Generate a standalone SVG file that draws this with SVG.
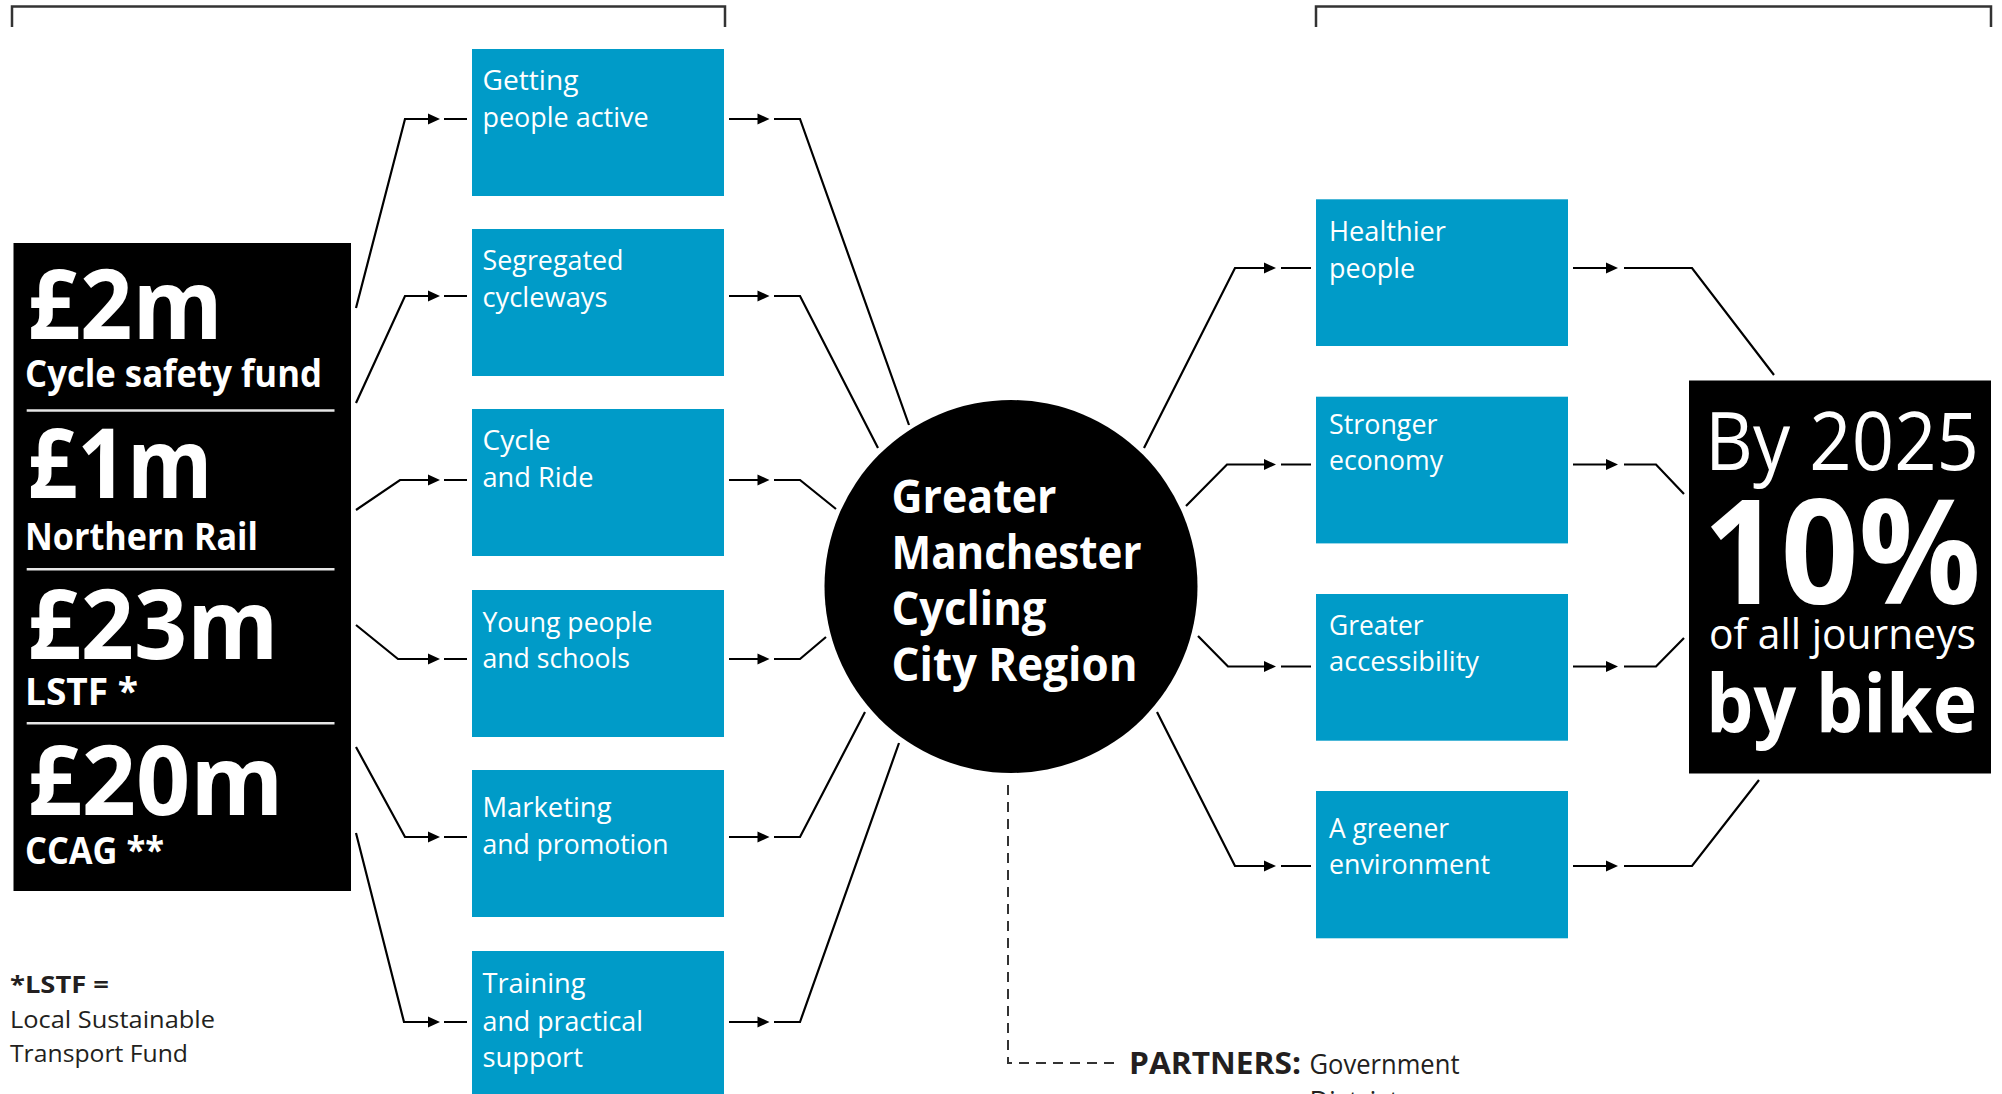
<svg xmlns="http://www.w3.org/2000/svg" xmlns:xlink="http://www.w3.org/1999/xlink" width="2002" height="1094" viewBox="0 0 2002 1094">
  <style>
    text { font-family: "Open Sans", "Noto Sans", "Liberation Sans", sans-serif; }
    .box { fill: #009bc8; }
    .box-t { font-size: 28px; fill: #ffffff; }
    .fund-big { font-size: 96px; font-weight: 700; fill: #ffffff; }
    .fund-lab { font-size: 37px; font-weight: 700; fill: #ffffff; }
    .rule { stroke: #e6e6e6; stroke-width: 2.5; }
    .hub-t { font-size: 46px; font-weight: 700; fill: #ffffff; }
    .note-b { font-size: 24px; font-weight: 700; fill: #231f20; }
    .note { font-size: 24px; fill: #231f20; }
    .link { fill: none; stroke: #000000; stroke-width: 2.2; }
    .bracket { fill: none; stroke: #333333; stroke-width: 2.5; }
    .partner-line { fill: none; stroke: #333333; stroke-width: 2; stroke-dasharray: 10 7; }
    .partner-b { font-size: 30px; font-weight: 700; fill: #231f20; }
    .partner { font-size: 27px; fill: #231f20; }
  </style>
  <defs>
    <path id="ah" d="M0,-5.5 L12,0 L0,5.5 Z" fill="#000000"/>
  </defs>

  <rect width="2002" height="1094" fill="#ffffff"/>

  <!-- top brackets -->
  <g id="brackets">
    <path class="bracket" d="M12,27 V6.5 H725 V27"/>
    <path class="bracket" d="M1316,27 V6.5 H1991 V27"/>
  </g>

  <!-- funding sources -->
  <g id="funding">
    <rect x="13.5" y="243" width="337.5" height="648" fill="#000000"/>
    <text class="fund-big" x="27.5" y="339" textLength="195" lengthAdjust="spacingAndGlyphs">£2m</text>
    <text class="fund-lab" x="25" y="386.7" textLength="297" lengthAdjust="spacingAndGlyphs">Cycle safety fund</text>
    <line class="rule" x1="26.7" y1="410.5" x2="334.5" y2="410.5"/>
    <text class="fund-big" x="27.5" y="498.3" textLength="185" lengthAdjust="spacingAndGlyphs">£1m</text>
    <text class="fund-lab" x="25" y="550" textLength="233" lengthAdjust="spacingAndGlyphs">Northern Rail</text>
    <line class="rule" x1="26.7" y1="569.3" x2="334.5" y2="569.3"/>
    <text class="fund-big" x="27.5" y="659.3" textLength="251" lengthAdjust="spacingAndGlyphs">£23m</text>
    <text class="fund-lab" x="25" y="705" textLength="113" lengthAdjust="spacingAndGlyphs">LSTF *</text>
    <line class="rule" x1="26.7" y1="723.3" x2="334.5" y2="723.3"/>
    <text class="fund-big" x="27.5" y="815" textLength="256" lengthAdjust="spacingAndGlyphs">£20m</text>
    <text class="fund-lab" x="25" y="864" textLength="139" lengthAdjust="spacingAndGlyphs">CCAG **</text>
  </g>

  <!-- footnote -->
  <g id="footnote">
    <text class="note-b" x="10" y="993.3" textLength="99" lengthAdjust="spacingAndGlyphs">*LSTF =</text>
    <text class="note" x="10" y="1027.7" textLength="205" lengthAdjust="spacingAndGlyphs">Local Sustainable</text>
    <text class="note" x="10" y="1061.7" textLength="178" lengthAdjust="spacingAndGlyphs">Transport Fund</text>
  </g>

  <!-- programme boxes -->
  <g id="getting-people-active">
    <rect class="box" x="472" y="49" width="252" height="147"/>
    <text class="box-t" x="482.5" y="90" textLength="96" lengthAdjust="spacingAndGlyphs">Getting</text>
    <text class="box-t" x="482.5" y="127" textLength="166" lengthAdjust="spacingAndGlyphs">people active</text>
  </g>
  <g id="segregated-cycleways">
    <rect class="box" x="472" y="229" width="252" height="147"/>
    <text class="box-t" x="482.5" y="270" textLength="141" lengthAdjust="spacingAndGlyphs">Segregated</text>
    <text class="box-t" x="482.5" y="307" textLength="125" lengthAdjust="spacingAndGlyphs">cycleways</text>
  </g>
  <g id="cycle-and-ride">
    <rect class="box" x="472" y="409" width="252" height="147"/>
    <text class="box-t" x="482.5" y="450" textLength="68" lengthAdjust="spacingAndGlyphs">Cycle</text>
    <text class="box-t" x="482.5" y="487" textLength="111" lengthAdjust="spacingAndGlyphs">and Ride</text>
  </g>
  <g id="young-people">
    <rect class="box" x="472" y="590" width="252" height="147"/>
    <text class="box-t" x="482.5" y="631.7" textLength="170" lengthAdjust="spacingAndGlyphs">Young people</text>
    <text class="box-t" x="482.5" y="668.3" textLength="147.5" lengthAdjust="spacingAndGlyphs">and schools</text>
  </g>
  <g id="marketing">
    <rect class="box" x="472" y="770" width="252" height="147"/>
    <text class="box-t" x="482.5" y="816.7" textLength="129" lengthAdjust="spacingAndGlyphs">Marketing</text>
    <text class="box-t" x="482.5" y="854" textLength="186" lengthAdjust="spacingAndGlyphs">and promotion</text>
  </g>
  <g id="training">
    <rect class="box" x="472" y="951" width="252" height="160"/>
    <text class="box-t" x="482.5" y="992.7" textLength="103" lengthAdjust="spacingAndGlyphs">Training</text>
    <text class="box-t" x="482.5" y="1030.7" textLength="160.5" lengthAdjust="spacingAndGlyphs">and practical</text>
    <text class="box-t" x="482.5" y="1066.7" textLength="100.5" lengthAdjust="spacingAndGlyphs">support</text>
  </g>

  <!-- central hub -->
  <g id="hub">
    <circle cx="1011" cy="586.5" r="186.5" fill="#000000"/>
    <text class="hub-t" x="891.5" y="513.3" textLength="165" lengthAdjust="spacingAndGlyphs">Greater</text>
    <text class="hub-t" x="891.5" y="569.3" textLength="250" lengthAdjust="spacingAndGlyphs">Manchester</text>
    <text class="hub-t" x="891.5" y="625" textLength="155" lengthAdjust="spacingAndGlyphs">Cycling</text>
    <text class="hub-t" x="891.5" y="680.7" textLength="246" lengthAdjust="spacingAndGlyphs">City Region</text>
  </g>

  <!-- outcome boxes -->
  <g id="healthier-people">
    <rect class="box" x="1316" y="199.3" width="252" height="146.7"/>
    <text class="box-t" x="1329" y="241" textLength="117" lengthAdjust="spacingAndGlyphs">Healthier</text>
    <text class="box-t" x="1329" y="277.7" textLength="86" lengthAdjust="spacingAndGlyphs">people</text>
  </g>
  <g id="stronger-economy">
    <rect class="box" x="1316" y="396.7" width="252" height="146.7"/>
    <text class="box-t" x="1329" y="434" textLength="108.5" lengthAdjust="spacingAndGlyphs">Stronger</text>
    <text class="box-t" x="1329" y="470" textLength="114" lengthAdjust="spacingAndGlyphs">economy</text>
  </g>
  <g id="greater-accessibility">
    <rect class="box" x="1316" y="594" width="252" height="146.7"/>
    <text class="box-t" x="1329" y="635" textLength="94.5" lengthAdjust="spacingAndGlyphs">Greater</text>
    <text class="box-t" x="1329" y="671" textLength="150" lengthAdjust="spacingAndGlyphs">accessibility</text>
  </g>
  <g id="greener-environment">
    <rect class="box" x="1316" y="791" width="252" height="147.3"/>
    <text class="box-t" x="1329" y="837.7" textLength="120" lengthAdjust="spacingAndGlyphs">A greener</text>
    <text class="box-t" x="1329" y="874.3" textLength="161" lengthAdjust="spacingAndGlyphs">environment</text>
  </g>

  <!-- target -->
  <g id="target">
    <rect x="1689" y="380.5" width="302" height="393" fill="#000000"/>
    <text x="1705" y="469.6" font-size="80" fill="#ffffff" textLength="274" lengthAdjust="spacingAndGlyphs">By 2025</text>
    <text x="1703" y="604" font-size="145" font-weight="700" fill="#ffffff" textLength="278" lengthAdjust="spacingAndGlyphs">10%</text>
    <text x="1709" y="649" font-size="42" fill="#ffffff" textLength="267" lengthAdjust="spacingAndGlyphs">of all journeys</text>
    <text x="1706" y="732" font-size="80" font-weight="700" fill="#ffffff" textLength="271" lengthAdjust="spacingAndGlyphs">by bike</text>
  </g>

  <!-- partners note -->
  <g id="partners">
    <text class="partner-b" x="1129" y="1074.3" textLength="172" lengthAdjust="spacingAndGlyphs">PARTNERS:</text>
    <text class="partner" x="1309.5" y="1074.3" textLength="150" lengthAdjust="spacingAndGlyphs">Government</text>
    <text class="partner" x="1309.5" y="1111">Districts</text>
  </g>

  <!-- connectors -->
  <g id="connectors">
    <!-- funding to programmes -->
    <path class="link" d="M356,308 L405,119 H429"/>
    <path class="link" d="M356,403 L405,296 H429"/>
    <path class="link" d="M356,510 L400,480 H429"/>
    <path class="link" d="M356,625 L398,659 H429"/>
    <path class="link" d="M356,747 L405,837 H429"/>
    <path class="link" d="M356,833 L404,1022 H429"/>
    <use xlink:href="#ah" x="428" y="119"/>
    <use xlink:href="#ah" x="428" y="296"/>
    <use xlink:href="#ah" x="428" y="480"/>
    <use xlink:href="#ah" x="428" y="659"/>
    <use xlink:href="#ah" x="428" y="837"/>
    <use xlink:href="#ah" x="428" y="1022"/>
    <path class="link" d="M444,119 H467 M444,296 H467 M444,480 H467 M444,659 H467 M444,837 H467 M444,1022 H467"/>

    <!-- programmes to hub -->
    <path class="link" d="M729,119 H758 M729,296 H758 M729,480 H758 M729,659 H758 M729,837 H758 M729,1022 H758"/>
    <use xlink:href="#ah" x="757.5" y="119"/>
    <use xlink:href="#ah" x="757.5" y="296"/>
    <use xlink:href="#ah" x="757.5" y="480"/>
    <use xlink:href="#ah" x="757.5" y="659"/>
    <use xlink:href="#ah" x="757.5" y="837"/>
    <use xlink:href="#ah" x="757.5" y="1022"/>
    <path class="link" d="M774,119 H800 L909,425"/>
    <path class="link" d="M774,296 H800 L878,448"/>
    <path class="link" d="M774,480 H800 L836,509"/>
    <path class="link" d="M774,659 H800 L826,637"/>
    <path class="link" d="M774,837 H800 L865,712"/>
    <path class="link" d="M774,1022 H800 L899,743"/>

    <!-- hub to outcomes -->
    <path class="link" d="M1144,448 L1235,268 H1265"/>
    <path class="link" d="M1186,506 L1227,464.5 H1265"/>
    <path class="link" d="M1198,636 L1228,666.5 H1265"/>
    <path class="link" d="M1157,712 L1235,866 H1265"/>
    <use xlink:href="#ah" x="1264" y="268"/>
    <use xlink:href="#ah" x="1264" y="464.5"/>
    <use xlink:href="#ah" x="1264" y="666.5"/>
    <use xlink:href="#ah" x="1264" y="866"/>
    <path class="link" d="M1281,268 H1311 M1281,464.5 H1311 M1281,666.5 H1311 M1281,866 H1311"/>

    <!-- outcomes to target -->
    <path class="link" d="M1573,268 H1607 M1573,464.5 H1607 M1573,666.5 H1607 M1573,866 H1607"/>
    <use xlink:href="#ah" x="1606" y="268"/>
    <use xlink:href="#ah" x="1606" y="464.5"/>
    <use xlink:href="#ah" x="1606" y="666.5"/>
    <use xlink:href="#ah" x="1606" y="866"/>
    <path class="link" d="M1624,268 H1692 L1774,375"/>
    <path class="link" d="M1624,464.5 H1656 L1684,494"/>
    <path class="link" d="M1624,666.5 H1656 L1684,638"/>
    <path class="link" d="M1624,866 H1692 L1759,780"/>

    <!-- partners link -->
    <path class="partner-line" d="M1008,785 V1063 H1115"/>
  </g>
</svg>
